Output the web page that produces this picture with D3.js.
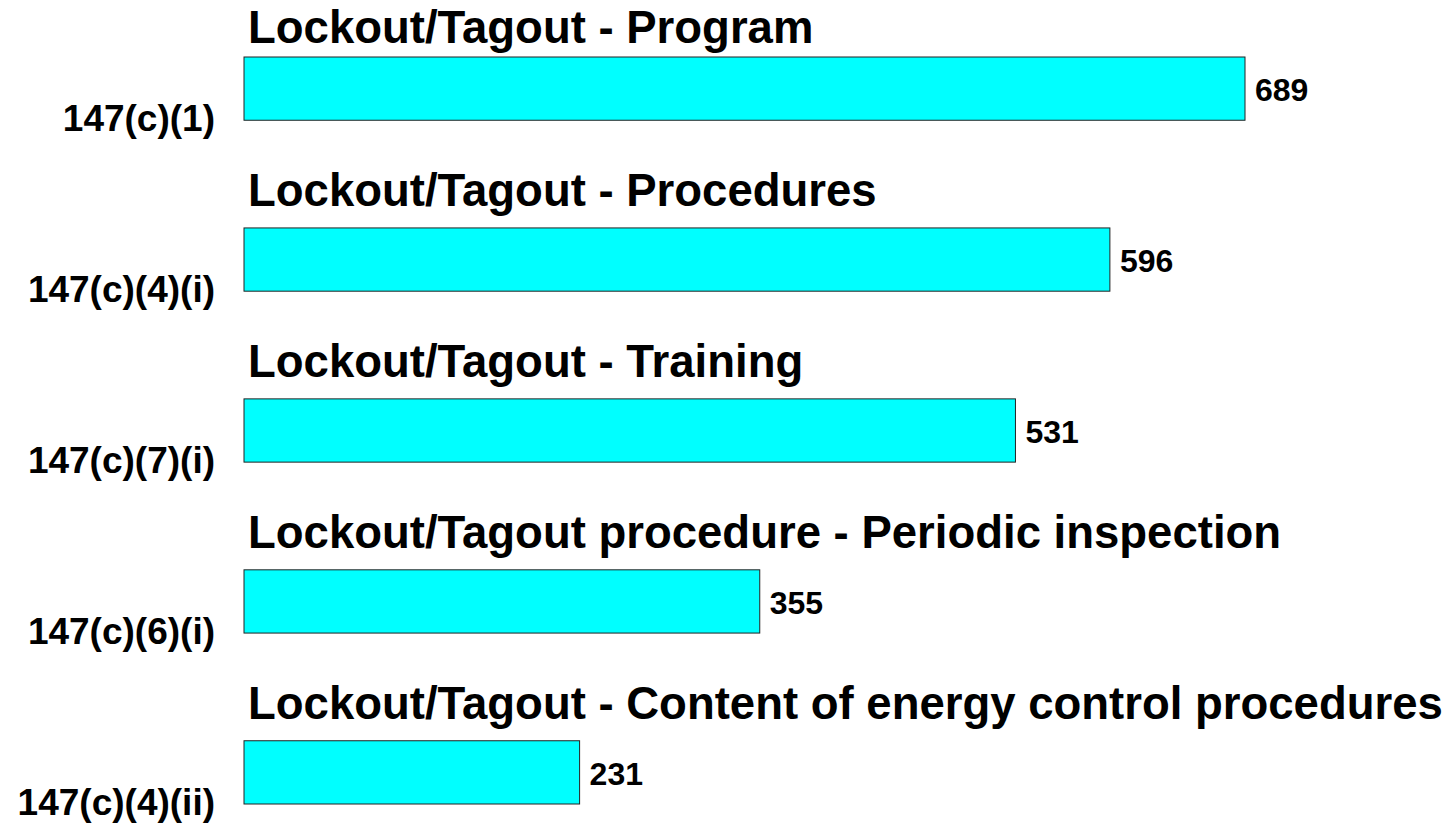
<!DOCTYPE html>
<html>
<head>
<meta charset="utf-8">
<script src="https://cdn.jsdelivr.net/npm/d3@7"></script>
<style>
  html, body { margin: 0; padding: 0; background: #fff; }
  svg { display: block; }
  text { font-family: "Liberation Sans", Arial, sans-serif; font-weight: bold; fill: #000; }
</style>
</head>
<body>
<div id="root"></div>
<script>
const codes = ['147(c)(1)', '147(c)(4)(i)', '147(c)(7)(i)', '147(c)(6)(i)', '147(c)(4)(ii)'];
const titles = ['Lockout/Tagout - Program',
  'Lockout/Tagout - Procedures',
  'Lockout/Tagout - Training',
  'Lockout/Tagout procedure - Periodic inspection',
  'Lockout/Tagout - Content of energy control procedures'];
const counts = [689, 596, 531, 355, 231];

const width = 1451;
const height = 825;

const svg = d3.select('#root').append('svg')
  .attr('width', width)
  .attr('height', height);

const x = d3.scaleLinear()
  .domain([0, d3.max(counts)])
  .range([244, 1245]);

const y = d3.scaleBand()
  .domain(codes)
  .range([57, 804])
  .paddingInner(0.63)
  .paddingOuter(0);

const rows = codes.map((c, i) => ({ code: c, title: titles[i], value: counts[i] }));

const g = svg.selectAll('g.row')
  .data(rows)
  .enter().append('g')
  .attr('class', 'row');

// bars
g.append('rect')
  .attr('x', x(0))
  .attr('y', d => y(d.code))
  .attr('width', d => x(d.value) - x(0))
  .attr('height', y.bandwidth())
  .style('fill', '#00ffff')
  .style('stroke', '#222')
  .style('stroke-width', 1);

// titles above bars (first one kept inside the top edge)
g.append('text')
  .attr('x', 248)
  .attr('y', d => Math.max(y(d.code) - 22, 43))
  .style('font-size', '45.5px')
  .text(d => d.title);

// category codes on the left
g.append('text')
  .attr('x', 215)
  .attr('y', d => y(d.code) + 74)
  .attr('text-anchor', 'end')
  .style('font-size', '37px')
  .text(d => d.code);

// value labels
g.append('text')
  .attr('x', d => x(d.value) + 10)
  .attr('y', d => y(d.code) + 44)
  .style('font-size', '32px')
  .text(d => d.value);
</script>
</body>
</html>
